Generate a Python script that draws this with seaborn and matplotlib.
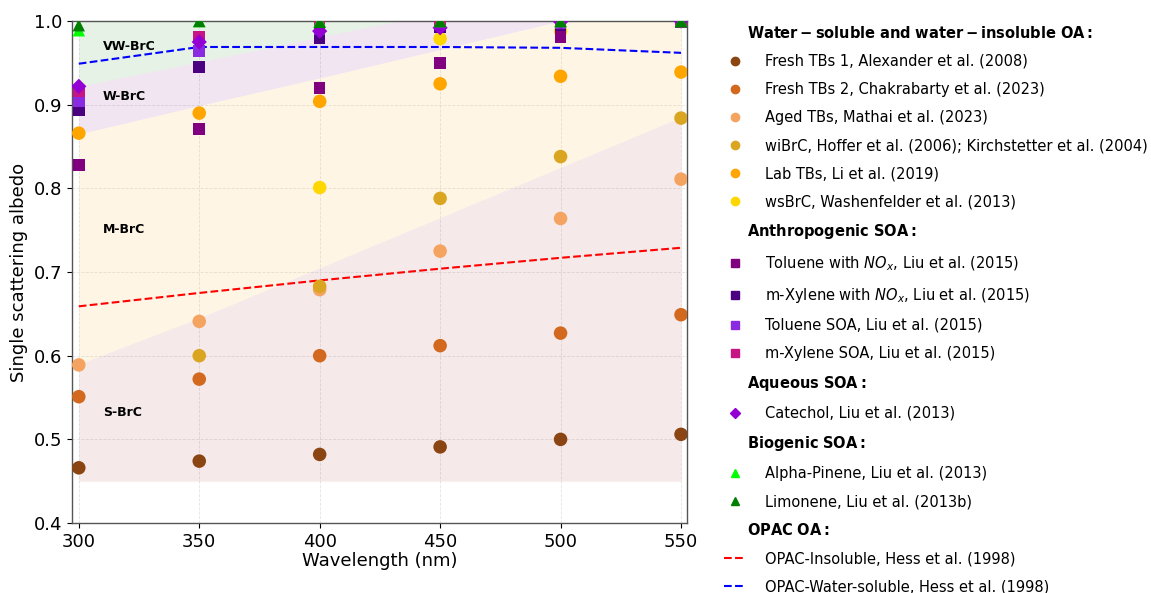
import numpy as np
import matplotlib
matplotlib.use("Agg")
import matplotlib.pyplot as plt
import seaborn as sns
from matplotlib.lines import Line2D

# Wavelengths (nm)
wavelength = [300, 350, 400, 450, 500, 550]

# Water-soluble and water-insoluble OA
fresh_tbs1 = [0.466, 0.474, 0.482, 0.491, 0.500, 0.506]
fresh_tbs2 = [0.551, 0.572, 0.600, 0.612, 0.627, 0.649]
aged_tbs = [0.589, 0.641, 0.679, 0.725, 0.764, 0.811]
wibrc = [np.nan, 0.600, 0.683, 0.788, 0.838, 0.884]
lab_tbs = [0.866, 0.890, 0.904, 0.925, 0.934, 0.939]
wsbrc = [np.nan, np.nan, 0.801, 0.979, 0.988, np.nan]

# Anthropogenic SOA
toluene_nox = [0.828, 0.871, 0.920, 0.950, 0.981, 0.999]
mxylene_nox = [0.893, 0.945, 0.980, 0.993, 0.995, 1.000]
toluene_soa = [0.904, 0.964, 0.990, 0.996, 0.998, 1.000]
mxylene_soa = [0.916, 0.981, 0.998, 0.999, 1.000, 1.000]

# Aqueous SOA
catechol = [0.922, 0.975, 0.988, 0.992, 0.999, 1.000]

# Biogenic SOA
alpha_pinene = [0.989, 1.000, 1.000, 1.000, 1.000, 1.000]
limonene = [0.995, 1.000, 0.999, 1.000, 1.000, 1.000]

# OPAC OA
opac_insoluble = [0.659, 0.675, 0.690, 0.704, 0.717, 0.729]
opac_soluble = [0.949, 0.969, 0.969, 0.969, 0.968, 0.962]

# BrC class boundaries
s_brc_low = 0.45
s_brc_top = [0.590, 0.645, 0.705, 0.765, 0.825, 0.885]
m_brc_top = [0.865, 0.899, 0.932, 0.966, 1.000, 1.034]
w_brc_top = [0.922, 0.951, 0.981, 1.010, 1.040, 1.070]

sns.set_style("ticks")
plt.rcParams["font.family"] = ["DejaVu Sans"]
plt.rcParams.update({"text.color": "black", "axes.labelcolor": "black",
                     "xtick.color": "black", "ytick.color": "black"})

fig = plt.figure(figsize=(11.51, 5.93), dpi=100)
ax = fig.add_axes([0.0626, 0.118, 0.5343, 0.8465])

# shaded BrC classes
ax.fill_between(wavelength, s_brc_low, s_brc_top, color="brown", alpha=0.1, lw=0, zorder=1)
ax.fill_between(wavelength, s_brc_top, m_brc_top, color="orange", alpha=0.1, lw=0, zorder=1)
ax.fill_between(wavelength, m_brc_top, w_brc_top, color="purple", alpha=0.1, lw=0, zorder=1)
w_arr = np.array(w_brc_top)
ax.fill_between(wavelength, w_brc_top, 1.0, where=w_arr <= 1.0, interpolate=True,
                color="green", alpha=0.1, lw=0, zorder=1)

ax.text(310, 0.970, "VW-BrC", fontsize=9, fontweight="bold", va="center")
ax.text(310, 0.910, "W-BrC", fontsize=9, fontweight="bold", va="center")
ax.text(310, 0.751, "M-BrC", fontsize=9, fontweight="bold", va="center")
ax.text(310, 0.532, "S-BrC", fontsize=9, fontweight="bold", va="center")

series = [
    (fresh_tbs1, "saddlebrown", "o", 95, "Fresh TBs 1, Alexander et al. (2008)"),
    (fresh_tbs2, "chocolate", "o", 95, "Fresh TBs 2, Chakrabarty et al. (2023)"),
    (aged_tbs, "sandybrown", "o", 95, "Aged TBs, Mathai et al. (2023)"),
    (wibrc, "goldenrod", "o", 95, "wiBrC, Hoffer et al. (2006); Kirchstetter et al. (2004)"),
    (lab_tbs, "orange", "o", 95, "Lab TBs, Li et al. (2019)"),
    (wsbrc, "gold", "o", 95, "wsBrC, Washenfelder et al. (2013)"),
    (toluene_nox, "purple", "s", 70, "Toluene with $NO_x$, Liu et al. (2015)"),
    (mxylene_nox, "indigo", "s", 70, "m-Xylene with $NO_x$, Liu et al. (2015)"),
    (toluene_soa, "blueviolet", "s", 70, "Toluene SOA, Liu et al. (2015)"),
    (mxylene_soa, "mediumvioletred", "s", 70, "m-Xylene SOA, Liu et al. (2015)"),
    (catechol, "darkviolet", "D", 60, "Catechol, Liu et al. (2013)"),
    (alpha_pinene, "lime", "^", 80, "Alpha-Pinene, Liu et al. (2013)"),
    (limonene, "green", "^", 80, "Limonene, Liu et al. (2013b)"),
]

for vals, col, mk, size, lab in series:
    sns.scatterplot(x=wavelength, y=vals, color=col, marker=mk, s=size,
                    edgecolor="none", ax=ax, zorder=3, legend=False)

sns.lineplot(x=wavelength, y=opac_insoluble, color="red", linestyle="--", lw=1.5, ax=ax, zorder=2)
sns.lineplot(x=wavelength, y=opac_soluble, color="blue", linestyle="--", lw=1.5, ax=ax, zorder=2)

ax.set_xlim(297.2, 552.5)
ax.set_ylim(0.4, 1.0)
ax.set_xticks([300, 350, 400, 450, 500, 550])
ax.set_yticks([0.4, 0.5, 0.6, 0.7, 0.8, 0.9, 1.0])
ax.grid(True, linestyle="--", color="lightgray", alpha=0.6, lw=0.6)
ax.tick_params(labelsize=13)
ax.set_xlabel("Wavelength (nm)", fontsize=13, labelpad=1)
ax.set_ylabel("Single scattering albedo", fontsize=13)
for sp in ax.spines.values():
    sp.set_color("#555555")
    sp.set_linewidth(1.0)


def marker_handle(col, mk, lab):
    return Line2D([], [], color=col, marker=mk, ls="none", markersize=6 if mk != "D" else 5.5, label=lab)


def header(text):
    return Line2D([], [], ls="none", label=text)


handles = [header(r"$\bf{Water-soluble\ and\ water-insoluble\ OA:}$")]
handles += [marker_handle(c, m, l) for _, c, m, _, l in series[:6]]
handles.append(header(r"$\bf{Anthropogenic\ SOA:}$"))
handles += [marker_handle(c, m, l) for _, c, m, _, l in series[6:10]]
handles.append(header(r"$\bf{Aqueous\ SOA:}$"))
handles.append(marker_handle(series[10][1], series[10][2], series[10][4]))
handles.append(header(r"$\bf{Biogenic\ SOA:}$"))
handles += [marker_handle(c, m, l) for _, c, m, _, l in series[11:13]]
handles.append(header(r"$\bf{OPAC\ OA:}$"))
handles.append(Line2D([], [], color="red", ls="--", lw=1.5, label="OPAC-Insoluble, Hess et al. (1998)"))
handles.append(Line2D([], [], color="blue", ls="--", lw=1.5, label="OPAC-Water-soluble, Hess et al. (1998)"))

is_header = [h.get_marker() in (None, "None", "none", "") and h.get_linestyle() in ("None", "none", "") for h in handles]

fs = 10.5
leg = ax.legend(handles=handles, loc="upper left", bbox_to_anchor=(1.05, 1.004),
                frameon=False, fontsize=fs, labelspacing=0.895,
                handlelength=1.5, handletextpad=1.35, borderaxespad=0)

# pull the group headers to the left, under the handle column
column = leg._legend_handle_box.get_children()[0]
for row, hdr in zip(column.get_children(), is_header):
    if hdr:
        row.get_children()[0].width = 1.5 * fs - 1.35 * fs + 1.0

fig.savefig("out.png", dpi=100)
